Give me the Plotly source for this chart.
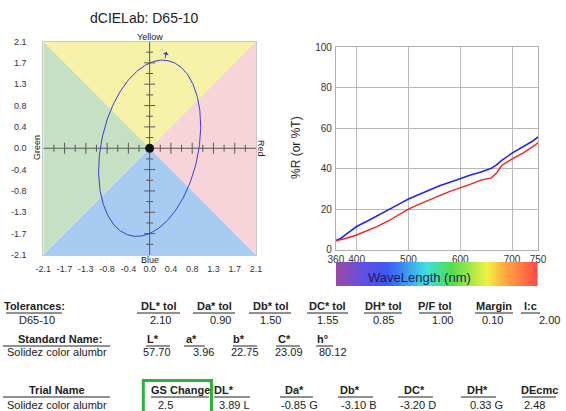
import numpy as np
import plotly.graph_objects as go

W, H = 566, 411
FONT = "Liberation Sans, Arial, sans-serif"

# ---------------- data ----------------
# dCIELab plot
LAB_TICK_VALS = [-2.1, -1.68, -1.26, -0.84, -0.42, 0.0, 0.42, 0.84, 1.26, 1.68, 2.1]
LAB_TICK_TEXT = ["-2.1", "-1.7", "-1.3", "-0.8", "-0.4", "0.0", "0.4", "0.8", "1.3", "1.7", "2.1"]
LAB_LIMIT = 2.1
ELLIPSE_ANGLE_DEG = 78.0     # orientation of the tolerance ellipse (close to h° of standard)
ELLIPSE_CHROMA_SEMI = 1.76   # semi-axis along chroma direction
ELLIPSE_HUE_SEMI = 0.96      # semi-axis along hue direction
QUADRANT_NAMES = ["Yellow", "Red", "Blue", "Green"]

# Spectral curves
WAVELENGTH = [360, 370, 380, 400, 420, 440, 460, 480, 500, 520, 540, 560, 580, 600,
              620, 640, 650, 660, 670, 680, 700, 720, 740, 750]
REFL_STANDARD = [4.5, 5.6, 7.6, 11.4, 14.0, 16.6, 19.5, 22.2, 25.0, 27.2, 29.3, 31.5, 33.3, 35.2,
                 36.8, 38.3, 39.1, 40.1, 41.8, 44.0, 47.6, 50.4, 53.6, 55.6]
REFL_TRIAL = [4.3, 4.8, 5.6, 7.2, 9.3, 11.5, 14.0, 17.0, 20.0, 22.3, 24.6, 26.6, 28.7, 30.4,
              32.3, 34.3, 34.8, 35.4, 37.8, 41.5, 44.8, 47.5, 50.8, 52.7]
SPEC_X_TICKS = [360, 400, 500, 600, 700, 750]
SPEC_Y_TICKS = [0, 20, 40, 60, 80, 100]

# Wavelength colour bar
SPECTRUM_NM = [360, 390, 420, 458, 485, 535, 582, 652, 692, 750]
SPECTRUM_COLORS = ["#9a4aa5", "#7a4ec8", "#5a50e8", "#3c58f5", "#3a86f5", "#40e0e0",
                   "#50dc50", "#f0f040", "#ffa040", "#ff4848"]

# Table
TOL_HEADERS = ["Tolerances:", "DL* tol", "Da* tol", "Db* tol", "DC* tol", "DH* tol", "P/F tol", "Margin", "l:c"]
TOL_VALUES = ["D65-10", "2.10", "0.90", "1.50", "1.55", "0.85", "1.00", "0.10", "2.00"]
STD_HEADERS = ["Standard Name:", "L*", "a*", "b*", "C*", "h\u00b0"]
STD_VALUES = ["Solidez color alumbr", "57.70", "3.96", "22.75", "23.09", "80.12"]
TRIAL_HEADERS = ["Trial Name", "GS Change", "DL*", "Da*", "Db*", "DC*", "DH*", "DEcmc"]
TRIAL_VALUES = ["Solidez color alumbr", "2.5", "3.89 L", "-0.85 G", "-3.10 B", "-3.20 D", "0.33 G", "2.48"]

# ---------------- layout helpers (pixels -> paper) ----------------
def px(x):
    return x / W

def py(y):
    return 1 - y / H

fig = go.Figure()

# ---------- left chart: dCIELab ----------
L = LAB_LIMIT
quad_colors = ["#f6f2a8", "#f6d4d7", "#a8cbf1", "#c5e0c2"]
corners = {
    "Yellow": ([-L, L, 0], [L, L, 0]),
    "Red": ([L, L, 0], [L, -L, 0]),
    "Blue": ([L, -L, 0], [-L, -L, 0]),
    "Green": ([-L, -L, 0], [-L, L, 0]),
}
for name, col in zip(QUADRANT_NAMES, quad_colors):
    xs, ys = corners[name]
    fig.add_trace(go.Scatter(x=xs, y=ys, fill="toself", fillcolor=col, mode="none",
                             hoverinfo="skip", showlegend=False, xaxis="x", yaxis="y"))

# crosshair
fig.add_trace(go.Scatter(x=[-L, L, None, 0, 0], y=[0, 0, None, -L, L], mode="lines",
                         line=dict(color="#5a5a5a", width=1), hoverinfo="skip",
                         showlegend=False, xaxis="x", yaxis="y"))
# crosshair ticks
step = LAB_TICK_VALS[6] / 2
upp = (2 * L) / 213.0  # units per pixel
tx, ty = [], []
for k in range(-9, 10):
    if k == 0:
        continue
    ln = (5.5 if k % 2 == 0 else 3.5) * upp
    p = k * step
    tx += [p, p, None, -ln, ln, None]
    ty += [-ln, ln, None, p, p, None]
fig.add_trace(go.Scatter(x=tx, y=ty, mode="lines", line=dict(color="#5a5a5a", width=1),
                         hoverinfo="skip", showlegend=False, xaxis="x", yaxis="y"))

# tolerance ellipse
t = np.linspace(0, 2 * np.pi, 241)
th = np.deg2rad(ELLIPSE_ANGLE_DEG)
u = ELLIPSE_CHROMA_SEMI * np.cos(t)
v = ELLIPSE_HUE_SEMI * np.sin(t)
ea = u * np.cos(th) - v * np.sin(th)
eb = u * np.sin(th) + v * np.cos(th)
fig.add_trace(go.Scatter(x=ea, y=eb, mode="lines", line=dict(color="#3c3cd8", width=1),
                         hoverinfo="skip", showlegend=False, xaxis="x", yaxis="y"))
# standard point
fig.add_trace(go.Scatter(x=[0], y=[0], mode="markers", marker=dict(color="#111", size=9),
                         hoverinfo="skip", showlegend=False, xaxis="x", yaxis="y"))

# ---------- right chart: spectral curves ----------
fig.add_trace(go.Scatter(x=WAVELENGTH, y=REFL_STANDARD, mode="lines",
                         line=dict(color="#2424f0", width=1.6), showlegend=False,
                         xaxis="x2", yaxis="y2"))
fig.add_trace(go.Scatter(x=WAVELENGTH, y=REFL_TRIAL, mode="lines",
                         line=dict(color="#f02424", width=1.4), showlegend=False,
                         xaxis="x2", yaxis="y2"))

# ---------- wavelength colour bar ----------
bar_nm = np.arange(SPECTRUM_NM[0], SPECTRUM_NM[-1] + 1, 2)
span = SPECTRUM_NM[-1] - SPECTRUM_NM[0]
cscale = [[(n - SPECTRUM_NM[0]) / span, c] for n, c in zip(SPECTRUM_NM, SPECTRUM_COLORS)]
fig.add_trace(go.Heatmap(x=bar_nm, y=[0], z=[bar_nm], colorscale=cscale, showscale=False,
                         hoverinfo="skip", xaxis="x3", yaxis="y3"))

axis_font = dict(family=FONT, size=9, color="#333")
fig.update_layout(
    width=W, height=H, margin=dict(l=0, r=0, t=0, b=0, pad=0),
    paper_bgcolor="white", plot_bgcolor="white",
    font=dict(family=FONT, color="#222"),
    xaxis=dict(domain=[px(43.3), px(256)], range=[-L, L], tickvals=LAB_TICK_VALS,
               ticktext=LAB_TICK_TEXT, showgrid=False, zeroline=False, showline=True,
               linecolor="#c8c8c8", mirror=True, ticks="", tickfont=axis_font,
               ticklabelstandoff=5, fixedrange=True, anchor="y", automargin=False),
    yaxis=dict(domain=[py(255), py(41.5)], range=[-L, L], tickvals=LAB_TICK_VALS,
               ticktext=LAB_TICK_TEXT, showgrid=False, zeroline=False, showline=True,
               linecolor="#c8c8c8", mirror=True, ticks="", tickfont=axis_font,
               ticklabelstandoff=14, fixedrange=True, anchor="x", automargin=False),
    xaxis2=dict(domain=[px(335.9), px(538)], range=[360, 750], tickvals=SPEC_X_TICKS,
                showgrid=True, gridcolor="#b8b8b8", zeroline=False, showline=True,
                linecolor="#b0b0b0", mirror=True, ticks="", anchor="y2", automargin=False,
                tickfont=dict(family=FONT, size=10, color="#333"), ticklabelstandoff=0),
    yaxis2=dict(domain=[py(249.6), py(47)], range=[0, 100], tickvals=SPEC_Y_TICKS,
                showgrid=True, gridcolor="#b8b8b8", zeroline=False, showline=True,
                linecolor="#b0b0b0", mirror=True, ticks="", anchor="x2", automargin=False,
                tickfont=dict(family=FONT, size=10, color="#333"), ticklabelstandoff=1),
    xaxis3=dict(domain=[px(336), px(537.5)], range=[SPECTRUM_NM[0], SPECTRUM_NM[-1]],
                visible=False, anchor="y3"),
    yaxis3=dict(domain=[py(286), py(262)], range=[-0.5, 0.5], visible=False, anchor="x3"),
)

ann = []
def text(x, y, s, size=11, bold=False, xanchor="center", angle=0, color="#222"):
    ann.append(dict(x=px(x), y=py(y), xref="paper", yref="paper", text=("<b>%s</b>" % s) if bold else s,
                    showarrow=False, xanchor=xanchor, yanchor="middle", textangle=angle,
                    font=dict(family=FONT, size=size, color=color)))

# left chart labels
text(144, 18, "dCIELab: D65-10", size=14)
text(149.5, 37, QUADRANT_NAMES[0], size=9)
text(149.5, 260, QUADRANT_NAMES[2], size=9)
text(37, 148, QUADRANT_NAMES[3], size=9, angle=-90)
text(261, 148, QUADRANT_NAMES[1], size=9, angle=90)
# small arrow above the ellipse
ann.append(dict(x=0.33, y=1.90, ax=0.30, ay=1.74, xref="x", yref="y", axref="x", ayref="y",
                text="", showarrow=True, arrowhead=1, arrowsize=1, arrowwidth=1,
                arrowcolor="#3c3cd8"))

# right chart labels
text(296, 148, "%R (or %T)", size=12, angle=-90)
text(419, 277, "WaveLength (nm)", size=13, color="#1c1c55")

# table
shapes = []
def header_row(labels, specs, y_text, y_line):
    for lab, (cx, x0, x1) in zip(labels, specs):
        text(cx, y_text, lab, bold=True)
        shapes.append(dict(type="line", xref="paper", yref="paper", x0=px(x0), x1=px(x1),
                           y0=py(y_line), y1=py(y_line), line=dict(color="#222", width=1)))

def value_row(values, specs, y):
    for val, (x, anchor) in zip(values, specs):
        text(x, y, val, xanchor=anchor)

header_row(TOL_HEADERS,
           [(34, 6, 62), (158.5, 137, 180), (214, 193, 235), (270, 249, 291), (327.5, 307, 348),
            (383, 364, 402), (435, 419, 451), (494, 475, 513), (530.5, 521, 540)], 306, 313)
value_row(TOL_VALUES,
          [(36.5, "center"), (173, "right"), (233, "right"), (283, "right"), (340, "right"),
           (396, "right"), (455, "right"), (505, "right"), (562, "right")], 320)

header_row(STD_HEADERS,
           [(60, 3, 110), (153, 146, 170), (191, 184, 205), (239, 233, 257), (284, 276, 300),
            (322, 316, 333)], 339, 346)
value_row(STD_VALUES,
          [(5, "left"), (173, "right"), (216, "right"), (261, "right"), (305, "right"),
           (317, "left")], 352)

header_row(TRIAL_HEADERS,
           [(57, 3, 110), (180, 151, 209), (224, 214, 250), (294, 280, 313), (350, 338, 373),
            (414, 398, 433), (477, 461, 496), (539, 522, 556)], 390, 397)
value_row(TRIAL_VALUES,
          [(5, "left"), (165, "center"), (217, "left"), (279, "left"), (339, "left"),
           (398, "left"), (468, "left"), (522, "left")], 405)

# green highlight around GS Change
shapes.append(dict(type="rect", xref="paper", yref="paper", x0=px(143.3), x1=px(211.5),
                   y0=py(420), y1=py(380.5), line=dict(color="#2db23c", width=3)))

fig.update_layout(annotations=ann, shapes=shapes)
fig.write_html("out.html", config={"displayModeBar": False, "staticPlot": True},
               post_script="document.body.style.margin='0';document.body.style.padding='0';")
